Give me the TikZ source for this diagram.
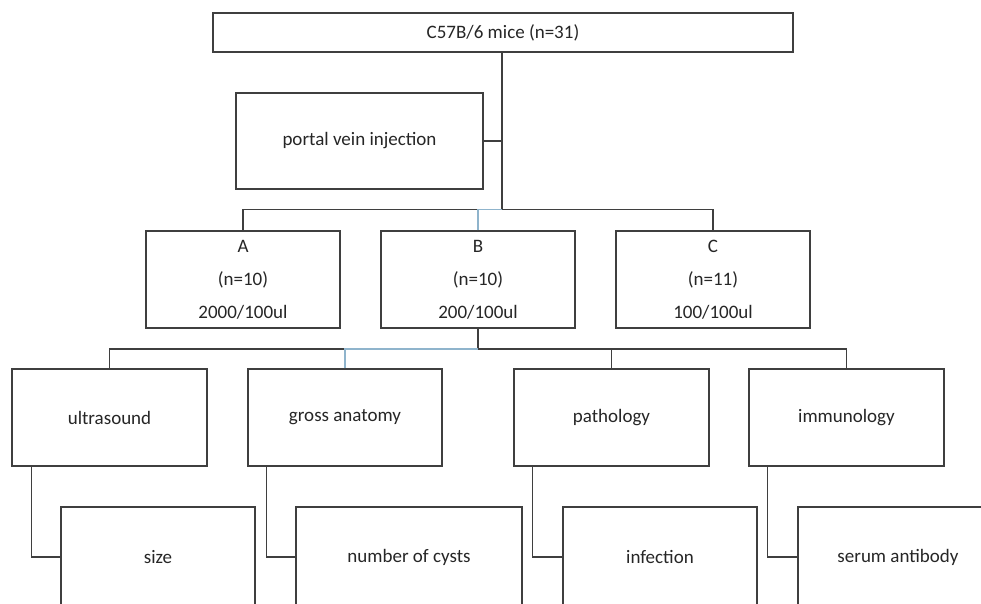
\documentclass[tikz,border=0pt]{standalone}
\usepackage{fontspec}
\setmainfont{Carlito}
\definecolor{boxline}{HTML}{3F3F3F}
\definecolor{linkblue}{HTML}{8FB4CC}
\definecolor{txt}{HTML}{262626}
\begin{document}
\begin{tikzpicture}[x=1pt,y=-1pt,
  box/.style={draw=boxline,line width=1.3pt,rectangle,inner sep=0pt,fill=white,
    text=txt,font=\fontsize{19}{33}\selectfont,align=center},
  link/.style={draw=boxline,line width=1.3pt},
  bluelink/.style={draw=linkblue,line width=1.3pt}]
\useasboundingbox (0,0) rectangle (981,603);
\clip (0,0) rectangle (981,603);
% nodes
\node[box,minimum width=580pt,minimum height=39pt] (top) at (503,32.5) {C57B/6 mice (n=31)};
\node[box,minimum width=247pt,minimum height=96pt] (portal) at (359.5,141) {portal vein injection};
\node[box,minimum width=194pt,minimum height=97pt] (A) at (243,279.5) {A\\(n=10)\\2000/100ul};
\node[box,minimum width=194pt,minimum height=97pt] (B) at (478,279.5) {B\\(n=10)\\200/100ul};
\node[box,minimum width=194pt,minimum height=97pt] (C) at (713,279.5) {C\\(n=11)\\100/100ul};
\node[box,minimum width=195pt,minimum height=97pt] (us) at (109.5,417.5) {ultrasound};
\node[box,minimum width=194pt,minimum height=97pt] (gross) at (345,417.5) {gross anatomy};
\node[box,minimum width=195pt,minimum height=97pt] (patho) at (611.5,417.5) {pathology};
\node[box,minimum width=195pt,minimum height=97pt] (immu) at (846.5,417.5) {immunology};
\node[box,minimum width=194pt,minimum height=100pt] (size) at (158,557) {size};
\node[box,minimum width=226pt,minimum height=100pt] (cysts) at (409,557) {number of cysts};
\node[box,minimum width=194pt,minimum height=100pt] (infect) at (660,557) {infection};
\node[box,minimum width=200pt,minimum height=100pt] (serum) at (898,557) {serum antibody};
% junctions
\coordinate (j1) at (502,209.5);
\coordinate (j2) at (478,349);
% level 1
\draw[link] (top.south -| j1) -- (j1);
\draw[link] (portal.east) -- (portal.east -| j1);
\draw[link] (A.north) |- (B.north |- j1);
\draw[bluelink] (B.north) |- (j1);
\draw[link] (C.north) |- (j1);
% level 2
\draw[link] (B.south) -- (j2);
\draw[link] (us.north) |- (gross.north |- j2);
\draw[bluelink] (gross.north) |- (j2);
\draw[link] (j2) -| (immu.north);
\draw[link] (patho.north) |- (j2);
% level 3
\draw[link] ([xshift=20pt]us.south west) |- (size.west);
\draw[link] ([xshift=19pt]gross.south west) |- (cysts.west);
\draw[link] ([xshift=19pt]patho.south west) |- (infect.west);
\draw[link] ([xshift=19pt]immu.south west) |- (serum.west);
\end{tikzpicture}
\end{document}
